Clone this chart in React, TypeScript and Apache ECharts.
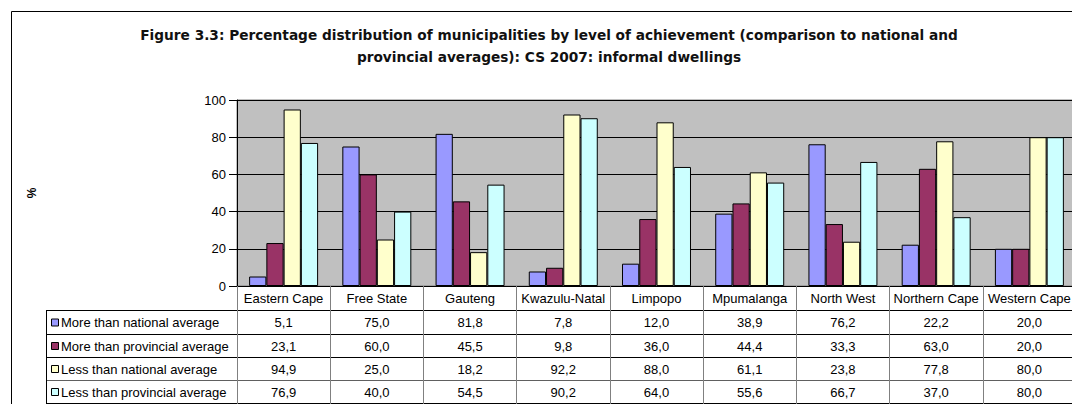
import React, { useEffect, useRef } from "react";
import * as echarts from "echarts";

const categories = [
  "Eastern Cape",
  "Free State",
  "Gauteng",
  "Kwazulu-Natal",
  "Limpopo",
  "Mpumalanga",
  "North West",
  "Northern Cape",
  "Western Cape",
];
const seriesNames = [
  "More than national average",
  "More than provincial average",
  "Less than national average",
  "Less than provincial average",
];
const moreNational = [5.1, 75.0, 81.8, 7.8, 12.0, 38.9, 76.2, 22.2, 20.0];
const moreProvincial = [23.1, 60.0, 45.5, 9.8, 36.0, 44.4, 33.3, 63.0, 20.0];
const lessNational = [94.9, 25.0, 18.2, 92.2, 88.0, 61.1, 23.8, 77.8, 80.0];
const lessProvincial = [76.9, 40.0, 54.5, 90.2, 64.0, 55.6, 66.7, 37.0, 80.0];
const seriesData = [moreNational, moreProvincial, lessNational, lessProvincial];
const colors = ["#9999FF", "#993366", "#FFFFCC", "#CCFFFF"];
const titleLines = [
  "Figure 3.3: Percentage distribution of municipalities by level of achievement (comparison to national and",
  "provincial averages): CS 2007: informal dwellings",
];
const yTicks = { min: 0, max: 100, interval: 20 };

const FONT = "'Liberation Sans', Arial, sans-serif";
const TITLE_FONT = "'DejaVu Sans', 'Liberation Sans', sans-serif";

export default function App() {
  const ref = useRef<HTMLDivElement>(null);
  useEffect(() => {
    if (!ref.current) return;
    const chart = echarts.init(ref.current, undefined, { renderer: "svg" });
    const gridLeft = 237;
    const gridTop = 100;
    const gridW = 839;
    const gridH = 186;
    const catW = gridW / categories.length;
    const tableLeft = 46;
    const tableRight = gridLeft + gridW;
    const rowYs = [310, 334, 357, 380, 403];
    const fmt = (v: number) => v.toFixed(1).replace(".", ",");

    const graphics: any[] = [];
    graphics.push({
      type: "rect",
      shape: { x: 11.5, y: 11.5, width: 1200, height: 600 },
      style: { fill: "none", stroke: "#000", lineWidth: 1 },
      silent: true,
    });
    titleLines.forEach((t, i) => {
      graphics.push({
        type: "text",
        x: 549,
        y: 35 + i * 21.5,
        style: {
          text: t,
          font: `bold 13.7px ${TITLE_FONT}`,
          fill: "#111",
          align: "center",
          verticalAlign: "middle",
        },
      });
    });
    rowYs.forEach((y, i) => {
      graphics.push({
        type: "line",
        shape: { x1: tableLeft, y1: y + 0.5, x2: tableRight, y2: y + 0.5 },
        style: { stroke: i === 3 ? "#606060" : "#000", lineWidth: 1 },
        silent: true,
      });
    });
    graphics.push({
      type: "line",
      shape: { x1: tableLeft + 0.5, y1: rowYs[0], x2: tableLeft + 0.5, y2: 404 },
      style: { stroke: "#000", lineWidth: 1 },
      silent: true,
    });
    seriesNames.forEach((name, r) => {
      const cy = (rowYs[r] + rowYs[r + 1]) / 2 + 0.5;
      graphics.push({
        type: "rect",
        shape: { x: 51.5, y: cy - 3.5, width: 7, height: 7 },
        style: { fill: colors[r], stroke: "#000", lineWidth: 1 },
        silent: true,
      });
      graphics.push({
        type: "text",
        x: 61,
        y: cy,
        style: {
          text: name,
          font: `13px ${FONT}`,
          fill: "#000",
          align: "left",
          verticalAlign: "middle",
        },
      });
      seriesData[r].forEach((v, c) => {
        graphics.push({
          type: "text",
          x: gridLeft + (c + 0.5) * catW,
          y: cy,
          style: {
            text: fmt(v),
            font: `13px ${FONT}`,
            fill: "#000",
            align: "center",
            verticalAlign: "middle",
          },
        });
      });
    });

    chart.setOption({
      animation: false,
      grid: {
        left: gridLeft,
        top: gridTop,
        width: gridW,
        height: gridH,
        show: true,
        backgroundColor: "#C0C0C0",
        borderColor: "#808080",
        borderWidth: 1,
      },
      xAxis: {
        type: "category",
        data: categories,
        axisLine: { show: true, lineStyle: { color: "#000", width: 1 } },
        axisTick: {
          show: true,
          length: 118,
          lineStyle: { color: "#808080", width: 1 },
        },
        axisLabel: {
          interval: 0,
          margin: 6,
          color: "#000",
          fontSize: 13,
          fontFamily: FONT,
        },
        splitLine: { show: false },
      },
      yAxis: {
        type: "value",
        min: yTicks.min,
        max: yTicks.max,
        interval: yTicks.interval,
        name: "%",
        nameLocation: "middle",
        nameRotate: 90,
        nameGap: 199,
        nameTextStyle: { color: "#000", fontSize: 12, fontWeight: "bold", fontFamily: FONT },
        axisLine: { show: true, lineStyle: { color: "#000" } },
        axisTick: { show: true, length: 8, lineStyle: { color: "#000" } },
        axisLabel: { color: "#000", fontSize: 13, fontFamily: FONT, margin: 11 },
        splitLine: { show: true, lineStyle: { color: "#000", width: 1 } },
      },
      series: seriesData.map((d, i) => ({
        type: "bar",
        name: seriesNames[i],
        data: d,
        barGap: "0%",
        barCategoryGap: "26%",
        itemStyle: { color: colors[i], borderColor: "#000", borderWidth: 1 },
      })),
      graphic: graphics,
    });
    return () => chart.dispose();
  }, []);
  return (
    <div
      style={{
        position: "fixed",
        left: 0,
        top: 0,
        width: 1072,
        height: 404,
        overflow: "hidden",
        background: "#fff",
      }}
    >
      <div ref={ref} style={{ width: 1110, height: 404 }} />
    </div>
  );
}
